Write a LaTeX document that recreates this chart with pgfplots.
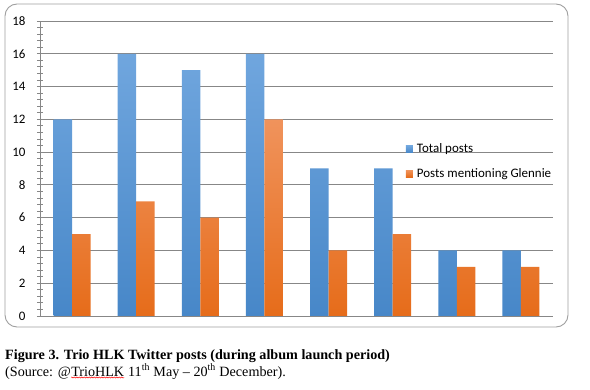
\documentclass[border=0pt]{standalone}
\usepackage{fontspec}
\setmainfont{Carlito}
\newfontfamily\capfont[Ligatures=TeX]{Liberation Serif}
\usepackage{pgfplots}
\pgfplotsset{compat=1.18}
\usetikzlibrary{decorations.pathmorphing}
\definecolor{gridc}{HTML}{878787}
\definecolor{bluetop}{HTML}{70A6DE}
\definecolor{bluebot}{HTML}{4787C8}
\definecolor{orgtop}{HTML}{F0935C}
\definecolor{orgbot}{HTML}{E66C1A}
\definecolor{blueleg}{HTML}{5B9BD5}
\definecolor{orgleg}{HTML}{ED7D31}
\newcommand{\wavy}[1]{\tikz[baseline=(w.base)]{\node[inner sep=0pt](w){#1};\draw[red, line width=0.4bp, decorate, decoration={snake, amplitude=0.6bp, segment length=2.5bp}] ([yshift=-1.5bp]w.base west)--([yshift=-1.5bp]w.base east);}}
\begin{document}
\begin{tikzpicture}
\useasboundingbox (0bp,0bp) rectangle (590bp,390bp);
\draw[gridc!80, line width=0.9bp, rounded corners=12bp] (5bp,63bp) rectangle (568bp,386bp);
\begin{axis}[
  at={(40bp,74bp)}, anchor=south west,
  scale only axis, width=513bp, height=295bp,
  xmin=0.5, xmax=8.5, ymin=0, ymax=18,
  ytick={0,2,...,18}, minor y tick num=4,
  xtick=\empty,
  axis x line=bottom, axis y line=left,
  axis line style={gridc, line width=0.9bp, -},
  ymajorgrids, major grid style={gridc, line width=0.9bp},
  major tick length=6bp, minor tick length=5bp,
  tick align=center,
  tick style={gridc, line width=0.8bp},
  yticklabel style={font=\fontsize{13}{13}\selectfont, anchor=east, xshift=-8bp},
  /pgf/number format/assume math mode=true,
  ybar=0pt, bar width=18.5bp,
  legend style={draw=none, fill=none, at={(0.713,0.524)}, anchor=west,
    font=\fontsize{13}{13}\selectfont, row sep=10bp, inner xsep=0pt},
  legend cell align=left,
  legend image code/.code={\fill[#1] (0bp,-3.5bp) rectangle (7bp,3.5bp);},
]
\addplot[draw=none, top color=bluetop, bottom color=bluebot, legend image post style={fill=blueleg}]
  coordinates {(1,12) (2,16) (3,15) (4,16) (5,9) (6,9) (7,4) (8,4)};
\addplot[draw=none, top color=orgtop, bottom color=orgbot, legend image post style={fill=orgleg}]
  coordinates {(1,5) (2,7) (3,6) (4,12) (5,4) (6,5) (7,3) (8,3)};
\legend{\hspace{2bp}Total posts, \hspace{2bp}Posts mentioning Glennie}
\end{axis}
\node[anchor=base west, inner sep=0pt, font=\capfont\fontsize{14.2}{14}\selectfont\bfseries] at (5bp,31bp)
  {Figure 3. Trio HLK Twitter posts (during album launch period)};
\node[anchor=base west, inner sep=0pt, font=\capfont\fontsize{14.2}{14}\selectfont] at (5bp,14bp)
  {(Source: @\wavy{TrioHLK} 11\textsuperscript{th} May – 20\textsuperscript{th} December).};
\end{tikzpicture}
\end{document}
